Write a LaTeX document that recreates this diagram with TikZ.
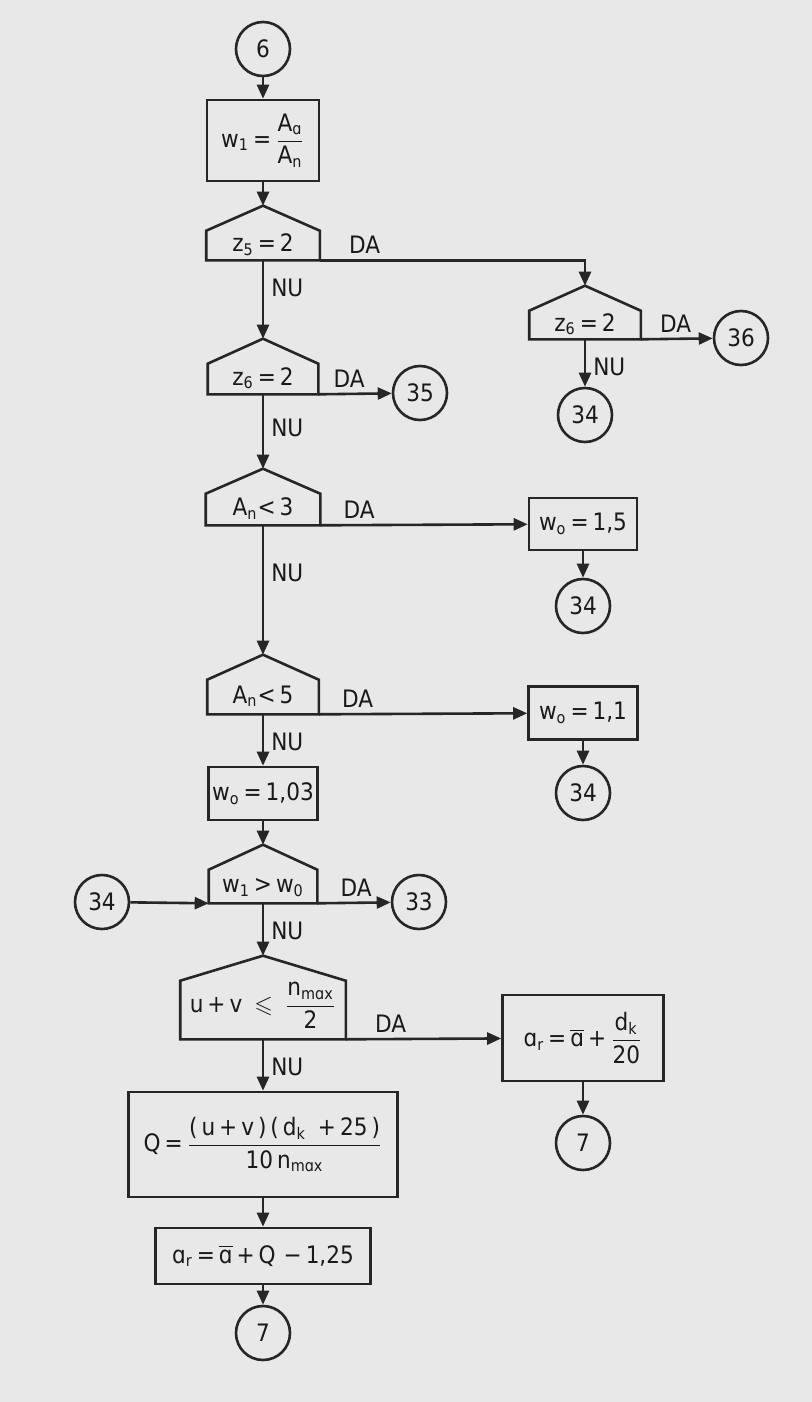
\documentclass[tikz,border=0pt]{standalone}
\usepackage{amsmath}
\usepackage{amssymb}
\usepackage{fontspec}
\setmainfont{DejaVu Sans Condensed}
\usepackage{tikz}
\usetikzlibrary{
  arrows.meta,
  calc
}
\newcommand{\frc}[2]{\ensuremath{\dfrac{\text{#1}}{\text{#2}}}}
\newcommand{\abar}{\ensuremath{\overline{\text{ɑ}}}}
\newcommand{\sbs}[1]{\textsubscript{#1}}

\begin{document}
\begin{tikzpicture}[
    x=0.5pt, y=-0.5pt,
    line width=1.3pt,
    draw=black!85,
    >={Triangle[length=7pt,width=6pt]},
    every node/.style={font=\fontsize{12}{14}\selectfont, text=black!90},
    conn/.style={circle, draw, minimum size=27pt, inner sep=0pt},
    block/.style={rectangle, draw, inner sep=1pt},
    decision/.style={rectangle, inner sep=1pt, text height=8.5pt, text depth=2.5pt},
    dalabel/.style={anchor=south west, inner sep=1pt, xshift=10pt, yshift=2pt},
    nulabel/.style={anchor=west, inner sep=1pt, xshift=2.5pt, yshift=-14pt}
    ]

    % fundal
    \fill[black!9] (0,0) rectangle (812,1402);
    \useasboundingbox (0,0) rectangle (812,1402);

    % coloana principala
    \node[conn] (c6) at (263,49) {6};
    \node[block, minimum width=56pt, minimum height=40.5pt] (bw1) at (263,140.5)
    {w\sbs{1}\,=\,\frc{A\sbs{ɑ}}{A\sbs{n}}};
    \node[decision, minimum width=55.5pt, minimum height=13.5pt] (dz5) at (263,245.5)
    {z\sbs{5}\,=\,2};
    \node[decision, minimum width=54pt, minimum height=14pt] (dz6) at (263,379)
    {z\sbs{6}\,=\,2};
    \node[decision, minimum width=56pt, minimum height=14.5pt] (dan3) at (263,509.5)
    {A\sbs{n}<\,3};
    \node[decision, minimum width=54.5pt, minimum height=16pt] (dan5) at (263,697)
    {A\sbs{n}<\,5};
    \node[block, minimum width=54.5pt, minimum height=26.5pt] (bw103) at (263,793.5)
    {w\sbs{o}\,=\,1,03};
    \node[decision, minimum width=53pt, minimum height=15.5pt] (dw) at (263,886.5)
    {w\sbs{1}\,>\,w\sbs{0}};
    \node[decision, minimum width=81.5pt, minimum height=28pt,
    text height=13pt, text depth=11pt] (duv) at (263,1010)
    {u\,+\,v\enspace\ensuremath{\leqslant}\enspace\frc{n\sbs{mɑx}}{2}};
    \node[block, minimum width=134.5pt, minimum height=52.5pt] (bq) at (263,1144.5)
    {Q\,=\,\frc{(\,u\,+\,v\,)\,(\,d\sbs{k}\enspace+\,25\,)}{10\,n\sbs{mɑx}}};
    \node[block, minimum width=107.5pt, minimum height=28pt] (bar2) at (263,1256)
    {ɑ\sbs{r}\,=\,\abar\,+\,Q\,\,−\,1,25};
    \node[conn] (c7b) at (263,1333) {7};

    % coloana dreapta
    \node[decision, minimum width=54.5pt, minimum height=13pt] (dz6r) at (585,325)
    {z\sbs{6}\,=\,2};
    \node[conn] (c34a) at (585,415) {34};
    \node[block, minimum width=54pt, minimum height=26pt] (bw15) at (583,524)
    {w\sbs{o}\,=\,1,5};
    \node[conn] (c34b) at (583,606) {34};
    \node[block, minimum width=54.5pt, minimum height=26.5pt] (bw11) at (583,713)
    {w\sbs{o}\,=\,1,1};
    \node[conn] (c34c) at (583,793) {34};
    \node[block, minimum width=80.5pt, minimum height=43pt] (bar1) at (583,1038)
    {ɑ\sbs{r}\,=\,\abar\,+\,\frc{d\sbs{k}}{20}};
    \node[conn] (c7a) at (583,1143) {7};

    % conectori laterali
    \node[conn] (c35) at (420,393) {35};
    \node[conn] (c36) at (741,338) {36};
    \node[conn] (c34d) at (102,902) {34};
    \node[conn] (c33) at (419,902) {33};

    % decizii (acoperis)
    \foreach \d in {dz5,dz6,dz6r,dan3,dan5,dw,duv}{
      \coordinate (\d-top) at ($(\d.north)+(0,-25)$);
      \draw (\d.south west) -- (\d.north west) -- (\d-top)
      -- (\d.north east) -- (\d.south east) -- cycle;
    }

    % sageti
    \draw[->] (c6) -- (bw1);
    \draw[->] (bw1) -- (dz5-top);
    \draw[->] (dz5.south) node[nulabel]{NU} -- (dz6-top);
    \draw[->] (dz5.south east) node[dalabel, xshift=3pt]{DA} -| (dz6r-top);
    \draw[->] (dz6.south east) node[dalabel, xshift=-4pt]{DA} -- (c35);
    \draw[->] (dz6r.south east) node[dalabel, xshift=-2pt]{DA} -- (c36);
    \draw[->] (dz6r.south) node[nulabel]{NU} -- (c34a);
    \draw[->] (dz6.south) node[nulabel, yshift=-3pt]{NU} -- (dan3-top);
    \draw[->] (dan3.south east) node[dalabel]{DA} -- (bw15);
    \draw[->] (bw15) -- (c34b);
    \draw[->] (dan3.south) node[nulabel, yshift=-10pt]{NU} -- (dan5-top);
    \draw[->] (dan5.south east) node[dalabel]{DA} -- (bw11);
    \draw[->] (bw11) -- (c34c);
    \draw[->] (dan5.south) node[nulabel]{NU} -- (bw103);
    \draw[->] (bw103) -- (dw-top);
    \draw[->] (c34d) -- (dw.south west);
    \draw[->] (dw.south east) node[dalabel]{DA} -- (c33);
    \draw[->] (dw.south) node[nulabel]{NU} -- (duv-top);
    \draw[->] (duv.south east) node[dalabel, xshift=3pt]{DA} -- (bar1);
    \draw[->] (bar1) -- (c7a);
    \draw[->] (duv.south) node[nulabel]{NU} -- (bq);
    \draw[->] (bq) -- (bar2);
    \draw[->] (bar2) -- (c7b);

\end{tikzpicture}
\end{document}
